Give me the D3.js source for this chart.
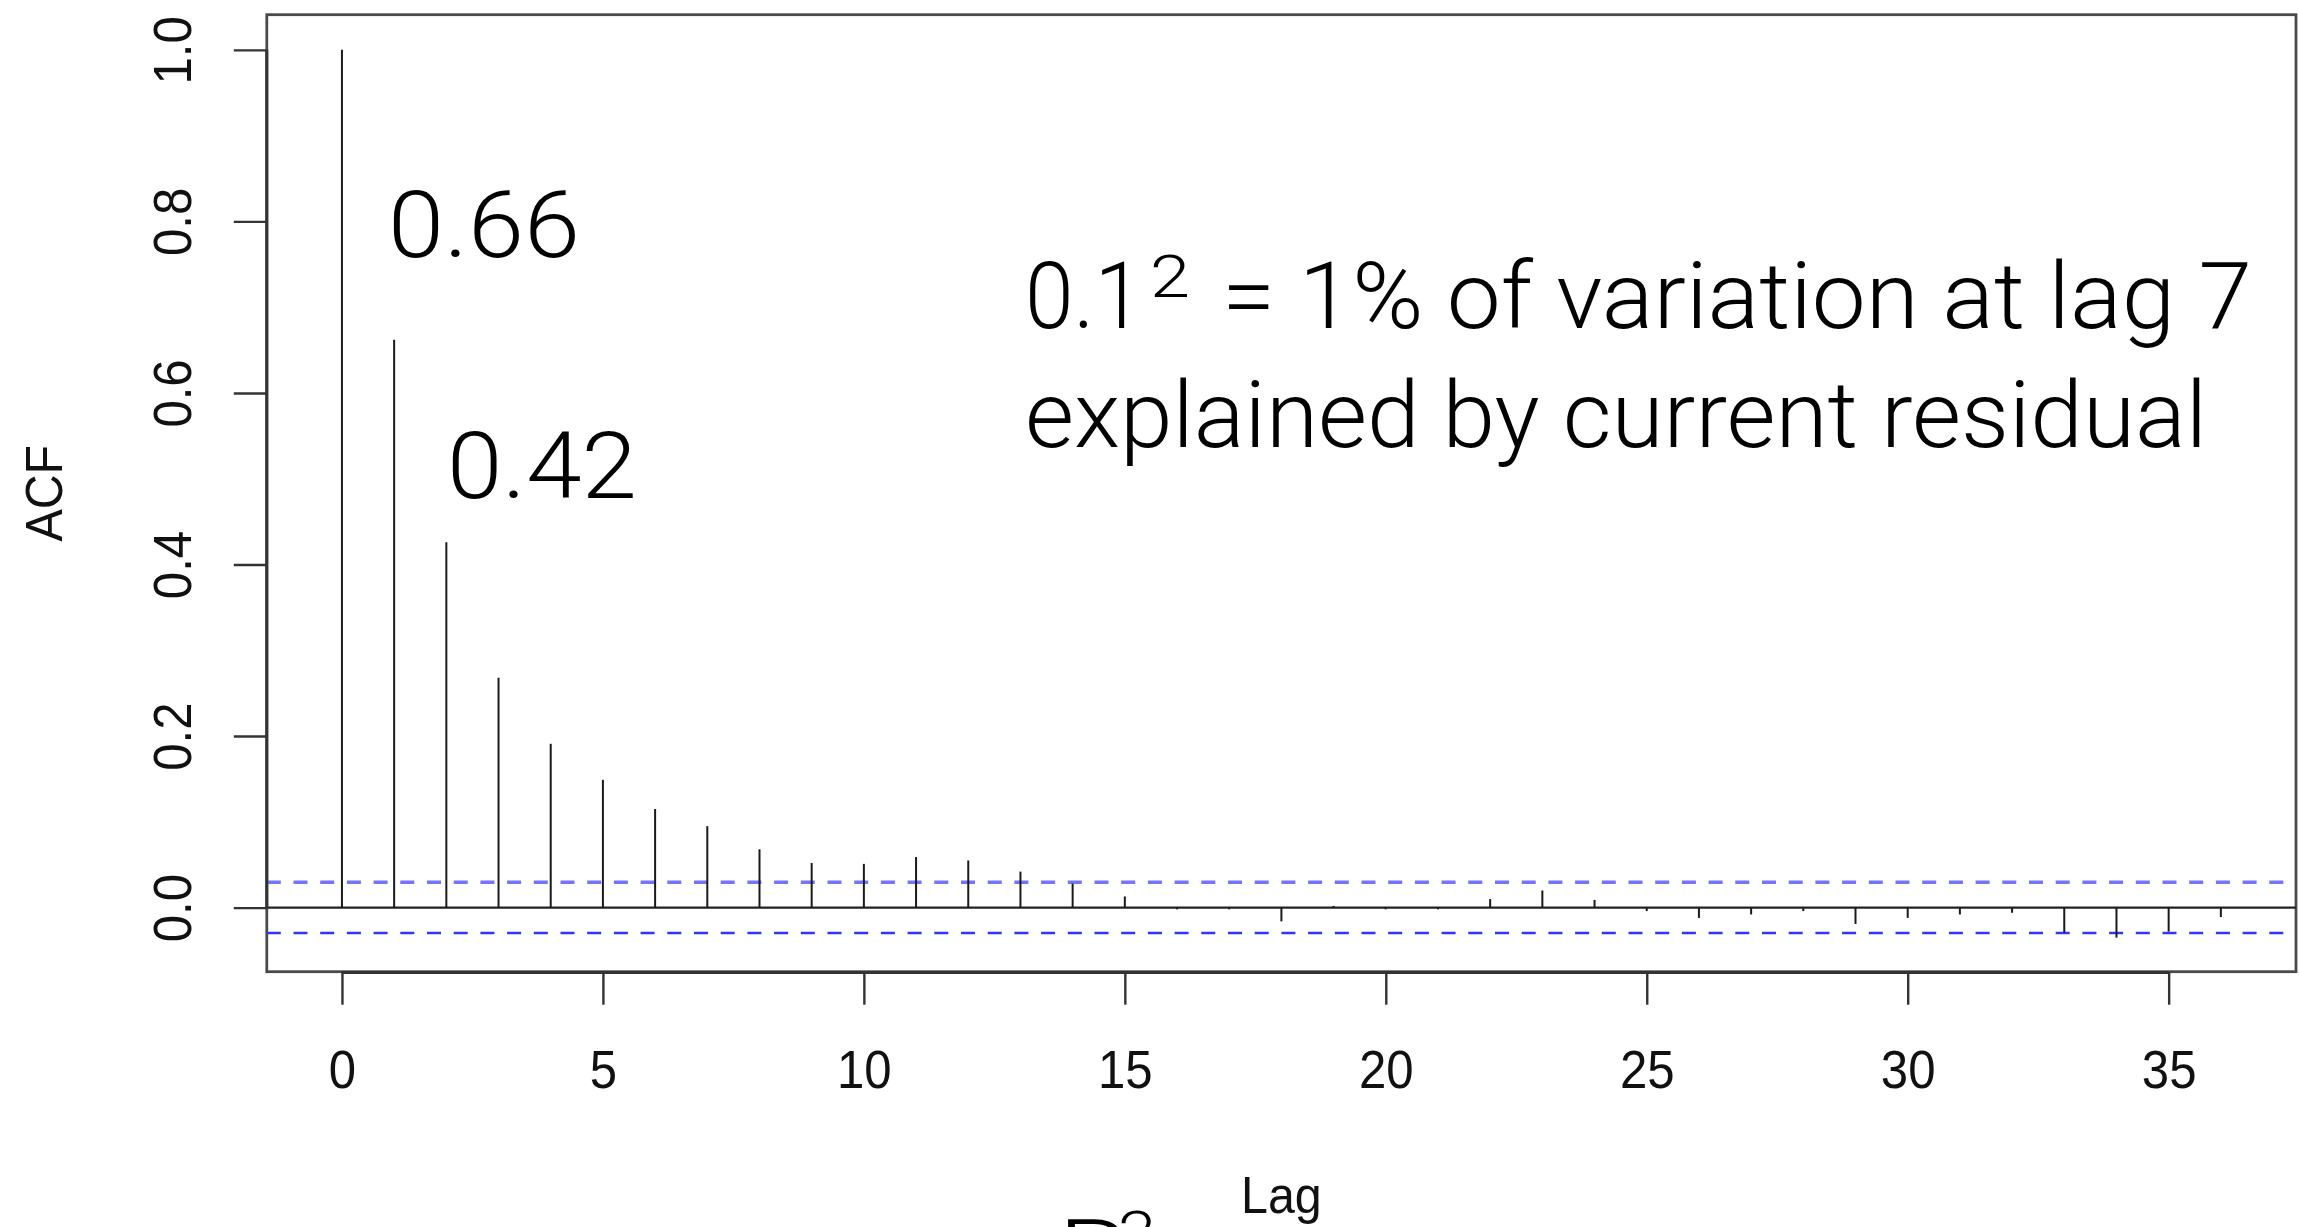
<!DOCTYPE html>
<html><head><meta charset="utf-8">
<script src="https://cdn.jsdelivr.net/npm/d3@7"></script>
<style>html,body{margin:0;padding:0;background:#fff;overflow:hidden}</style>
</head><body>
<svg id="c" width="2299" height="1227"></svg>
<script>
// ---- data ----
const lags = [0,1,2,3,4,5,6,7,8,9,10,11,12,13,14,15,16,17,18,19,20,21,22,23,24,25,26,27,28,29,30,31,32,33,34,35,36];
const acf  = [1.000,0.662,0.426,0.268,0.191,0.149,0.115,0.095,0.068,0.052,0.051,0.059,0.055,0.042,0.028,0.013,
              -0.002,-0.002,-0.016,0.002,-0.002,-0.002,0.010,0.020,0.009,-0.004,-0.012,-0.008,-0.004,-0.019,
              -0.012,-0.008,-0.006,-0.029,-0.035,-0.028,-0.011];
const ciBound = 0.0295;
const xTicks = [0,5,10,15,20,25,30,35];
const yTicks = [0.0,0.2,0.4,0.6,0.8,1.0];
const xTitle = "Lag";
const yTitle = "ACF";
const labelLag1 = "0.66";
const labelLag2 = "0.42";
const noteBase = "0.1";
const noteSup = "2";
const noteRest = "= 1% of variation at lag 7";
const noteLine2 = "explained by current residual";
const bottomText = "R";
const bottomSup = "2";

// ---- layout ----
const svg = d3.select("#c");
const L = 266.8, R = 2296, T = 14.7, B = 971.7;
const x = d3.scaleLinear().domain([-1.44, 37.44]).range([L, R]);
const y = d3.scaleLinear().domain([-0.0747, 1.041]).range([B, T]);
const rFont = "'Liberation Sans', Arial, Helvetica, sans-serif";
const lightFont = "Roboto, Lato, 'Open Sans', sans-serif";
const axisCol = "#333";

function squeeze(sel, f) {
  sel.each(function(){ const n=this; const w=n.getComputedTextLength(); n.setAttribute("textLength", (w*f).toFixed(1)); n.setAttribute("lengthAdjust","spacingAndGlyphs"); });
}
function fitW(sel, w) {
  sel.attr("textLength", w).attr("lengthAdjust","spacingAndGlyphs");
}

// box
svg.append("rect").attr("x",L).attr("y",T).attr("width",R-L).attr("height",B-T)
  .attr("fill","none").attr("stroke","#4a4a4a").attr("stroke-width",2.8);

// CI lines
svg.append("line").attr("x1",L).attr("x2",R).attr("y1",y(ciBound)).attr("y2",y(ciBound))
  .attr("stroke","#7474ff").attr("stroke-width",3.6).attr("stroke-dasharray","14 12.7");
svg.append("line").attr("x1",L).attr("x2",R).attr("y1",y(-ciBound)).attr("y2",y(-ciBound))
  .attr("stroke","#3434ff").attr("stroke-width",2.6).attr("stroke-dasharray","14 12.7");

// zero line
svg.append("line").attr("x1",L).attr("x2",R).attr("y1",y(0)).attr("y2",y(0))
  .attr("stroke","#222").attr("stroke-width",2.2);

// stems
svg.append("g").selectAll("line").data(lags).join("line")
  .attr("x1",d=>x(d)).attr("x2",d=>x(d))
  .attr("y1",y(0)).attr("y2",(d,i)=>y(acf[i]))
  .attr("stroke","#1a1a1a").attr("stroke-width",2);

// x axis
const gx = svg.append("g").attr("transform",`translate(0,${B})`)
  .call(d3.axisBottom(x).tickValues(xTicks).tickSize(33).tickPadding(45).tickFormat(d3.format("d")));
gx.select(".domain").remove();
gx.selectAll(".tick line").attr("stroke",axisCol).attr("stroke-width",2.4);
gx.selectAll(".tick text").attr("font-family",rFont).attr("font-size",54).attr("fill","#111");
squeeze(gx.selectAll(".tick text"), 0.91);
svg.append("line").attr("x1",x(xTicks[0])).attr("x2",x(xTicks[xTicks.length-1]))
  .attr("y1",B+0.8).attr("y2",B+0.8).attr("stroke",axisCol).attr("stroke-width",3.2);

// y axis
const gy = svg.append("g").attr("transform",`translate(${L},0)`)
  .call(d3.axisLeft(y).tickValues(yTicks).tickSize(33).tickFormat(d3.format(".1f")));
gy.select(".domain").remove();
gy.selectAll(".tick line").attr("stroke",axisCol).attr("stroke-width",2.4);
gy.selectAll(".tick text").attr("x",0).attr("y",0).attr("dy",null)
  .attr("text-anchor","middle").attr("transform","translate(-76,0) rotate(-90)")
  .attr("font-family",rFont).attr("font-size",54).attr("fill","#111");
squeeze(gy.selectAll(".tick text"), 0.91);
svg.append("line").attr("x1",L).attr("x2",L).attr("y1",y(yTicks[0])).attr("y2",y(yTicks[yTicks.length-1]))
  .attr("stroke",axisCol).attr("stroke-width",3);

// axis titles
const xt = svg.append("text").attr("x",(L+R)/2).attr("y",1213).attr("text-anchor","middle")
  .attr("font-family",rFont).attr("font-size",52).attr("fill","#111").text(xTitle);
squeeze(xt, 0.93);
const yt = svg.append("text").attr("transform",`translate(62,${(T+B)/2}) rotate(-90)`).attr("text-anchor","middle")
  .attr("font-family",rFont).attr("font-size",52).attr("fill","#111").text(yTitle);
squeeze(yt, 0.93);

// annotations
function light(xp, yp, txt, size, w) {
  const t = svg.append("text").attr("x",xp).attr("y",yp).attr("font-family",lightFont)
    .attr("font-weight",300).attr("font-size",size).attr("fill","#000").text(txt);
  if (w) fitW(t, w);
  return t;
}
light(388, 257, labelLag1, 93, 192);
light(447, 498, labelLag2, 93, 190);
light(1025, 328, noteBase, 93, 118);
light(1150, 297, noteSup, 60, 40);
light(1222, 328, noteRest, 93, 1030);
light(1025, 447, noteLine2, 93, 1182);
light(1058, 1286, bottomText, 93, 72);
light(1118, 1253, bottomSup, 60, 38);
</script>
</body></html>
